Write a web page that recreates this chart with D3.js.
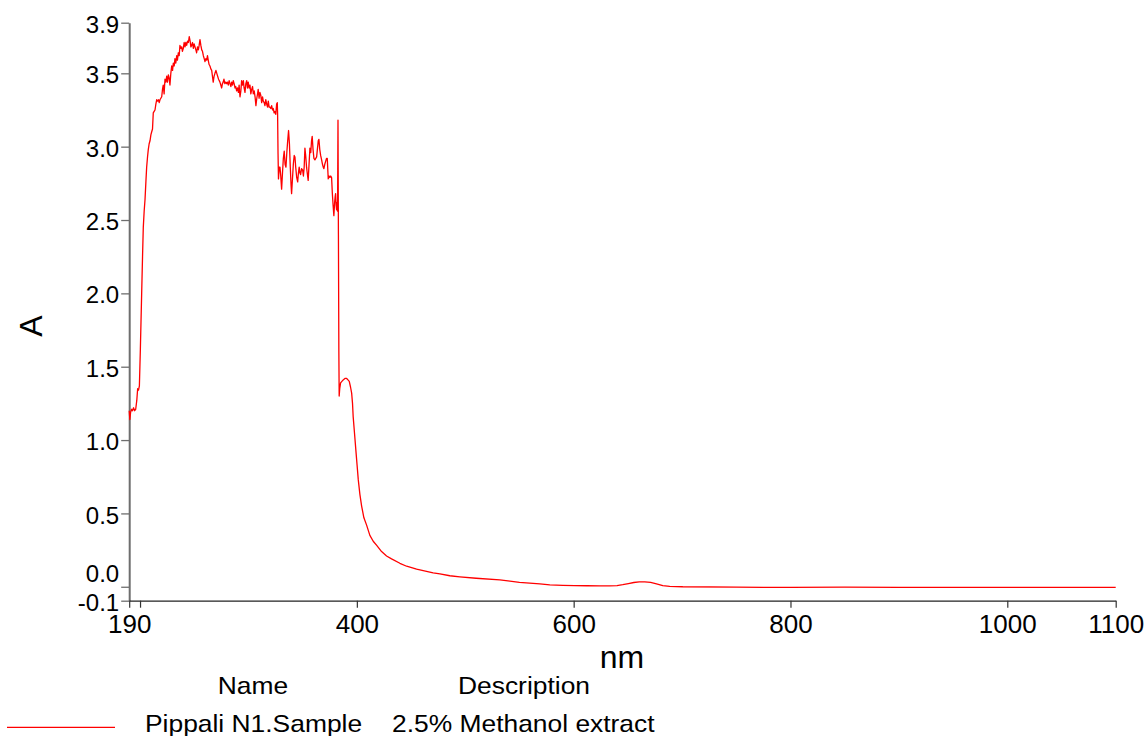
<!DOCTYPE html>
<html>
<head>
<meta charset="utf-8">
<script src="https://cdn.jsdelivr.net/npm/d3@7"></script>
<style>
  html, body { margin: 0; padding: 0; background: #fff; }
  svg { display: block; font-family: "Liberation Sans", Arial, sans-serif; }
</style>
</head>
<body>
<svg id="chart" width="1148" height="736"></svg>
<script>
// ---------------- DATA ----------------
const wavelengths = [
  190.0,190.6,191.3,192.2,193.0,194.0,195.0,196.0,197.0,197.8,198.6,199.4,200.3,201.5,202.3,203.0,203.8,204.6,205.4,206.1,
  206.9,207.6,208.4,209.2,210.0,210.7,211.5,212.2,213.0,213.8,214.6,215.4,216.2,217.0,217.7,218.4,219.2,220.0,220.7,221.4,
  222.2,223.0,223.8,224.6,225.3,226.1,226.8,227.6,228.4,229.2,230.0,230.7,231.5,232.2,233.0,233.8,234.5,235.3,236.1,236.8,
  237.6,238.4,239.1,239.9,240.7,241.5,242.2,243.0,243.8,244.6,245.4,246.2,246.9,247.6,248.4,249.2,249.9,250.7,251.5,252.2,
  253.0,253.8,254.5,255.3,256.1,256.9,257.6,258.4,259.2,259.9,260.7,261.5,262.2,262.9,263.7,264.5,265.3,266.1,266.8,267.5,
  268.3,269.1,270.0,270.8,271.6,272.4,273.1,273.7,274.5,275.3,276.0,276.7,277.4,278.2,279.0,279.8,280.6,281.4,282.2,283.0,
  283.8,284.5,285.3,286.0,286.8,287.6,288.3,289.1,289.9,290.7,291.4,292.2,293.0,293.7,294.5,295.3,296.0,296.8,297.6,298.4,
  299.1,299.8,300.6,301.4,302.2,303.0,303.8,304.5,305.3,306.1,306.9,307.7,308.4,309.0,309.8,310.6,311.4,312.2,313.0,313.7,
  314.5,315.2,316.0,316.8,317.6,318.3,319.1,319.8,320.6,321.4,322.2,322.9,323.7,324.4,325.2,326.0,326.6,326.9,327.3,327.7,
  328.4,329.1,329.8,330.6,331.4,332.2,333.0,333.8,334.6,335.4,336.2,337.0,337.8,338.6,339.3,339.8,340.6,341.4,342.2,342.9,
  343.6,344.5,345.4,346.1,346.8,347.5,348.1,349.0,350.0,350.7,351.4,352.1,352.8,353.6,354.4,355.1,355.9,356.7,357.5,358.2,
  358.8,359.6,360.4,361.3,362.1,362.9,363.7,364.4,365.0,365.8,366.6,367.5,368.3,369.0,369.6,370.4,371.2,372.0,372.7,373.6,
  374.4,375.2,375.9,376.7,377.4,378.1,378.8,379.5,380.0,380.4,380.9,381.3,381.8,382.2,382.6,383.0,383.4,383.7,384.2,385.0,
  386.2,387.4,389.0,390.6,391.8,393.0,394.2,395.2,396.0,396.6,397.8,399.1,400.2,401.3,402.8,404.4,406.5,409.0,412.0,415.1,
  418.5,422.8,427.4,432.0,439.7,445.9,455.1,461.2,470.4,476.6,485.8,495.0,510.0,531.9,550.0,568.8,578.0,590.0,601.0,612.0,
  624.0,633.0,640.0,645.3,650.5,655.5,660.5,665.6,671.0,676.4,682.2,688.6,700.6,750.0,780.0,800.0,850.0,900.0,950.0,1000.0,
  1050.0,1100.0
];
const absorbance = [
  1.20,1.14,1.19,1.21,1.20,1.22,1.20,1.21,1.27,1.35,1.34,1.37,1.62,2.00,2.25,2.45,2.56,2.64,2.76,2.86,
  2.93,2.98,3.02,3.04,3.08,3.10,3.12,3.23,3.24,3.25,3.29,3.32,3.31,3.32,3.30,3.32,3.33,3.34,3.39,3.42,
  3.36,3.46,3.44,3.48,3.44,3.49,3.47,3.42,3.50,3.55,3.52,3.57,3.55,3.60,3.57,3.62,3.59,3.64,3.62,3.69,
  3.67,3.68,3.65,3.67,3.71,3.68,3.71,3.69,3.72,3.71,3.75,3.72,3.68,3.69,3.71,3.67,3.70,3.68,3.66,3.64,
  3.68,3.66,3.69,3.73,3.69,3.66,3.65,3.62,3.60,3.58,3.60,3.59,3.62,3.59,3.56,3.55,3.53,3.52,3.48,3.44,
  3.48,3.50,3.52,3.50,3.48,3.46,3.45,3.44,3.42,3.40,3.43,3.44,3.46,3.43,3.44,3.43,3.44,3.42,3.45,3.43,
  3.41,3.44,3.42,3.45,3.43,3.40,3.41,3.38,3.40,3.37,3.42,3.34,3.38,3.45,3.42,3.45,3.40,3.37,3.43,3.45,
  3.40,3.44,3.40,3.42,3.36,3.39,3.41,3.36,3.38,3.34,3.28,3.33,3.36,3.39,3.33,3.37,3.35,3.30,3.34,3.31,
  3.30,3.28,3.32,3.29,3.27,3.31,3.27,3.27,3.26,3.28,3.25,3.26,3.23,3.24,3.22,3.29,3.30,3.22,2.95,2.78,
  2.86,2.86,2.80,2.71,2.82,2.92,2.97,2.88,2.86,2.96,3.04,3.11,3.02,2.86,2.74,2.68,2.78,2.88,2.94,2.93,
  2.86,2.79,2.76,2.82,2.86,2.82,2.81,2.85,2.84,2.80,2.86,2.99,2.94,2.86,2.81,2.77,2.88,2.99,2.96,3.04,
  3.07,2.98,2.92,2.91,2.92,2.93,2.99,3.04,3.05,2.98,2.94,2.91,2.88,2.86,2.85,2.88,2.90,2.92,2.92,2.78,
  2.80,2.79,2.80,2.79,2.68,2.60,2.53,2.62,2.66,2.68,2.60,2.57,2.62,2.56,3.18,2.40,1.60,1.30,1.35,1.39,
  1.40,1.41,1.42,1.42,1.41,1.40,1.36,1.32,1.25,1.16,1.05,0.93,0.83,0.73,0.63,0.55,0.47,0.42,0.35,0.31,
  0.28,0.24,0.21,0.19,0.16,0.14,0.12,0.11,0.095,0.088,0.075,0.068,0.058,0.047,0.030,0.019,0.013,0.010,0.008,0.007,
  0.006,0.006,0.008,0.014,0.022,0.029,0.033,0.034,0.030,0.020,0.008,0.003,0.000,-0.003,-0.004,-0.004,-0.003,-0.004,-0.004,-0.004,
  -0.004,-0.004
];
const xTickValues = [190, 200, 400, 600, 800, 1000, 1100];
const xTickLabels = ["190", "", "400", "600", "800", "1000", "1100"];
const yTickValues = [-0.095, 0, 0.5, 1.0, 1.5, 2.0, 2.5, 3.0, 3.5, 3.845];
const yTickLabels = ["-0.1", "0.0", "0.5", "1.0", "1.5", "2.0", "2.5", "3.0", "3.5", "3.9"];
const xDomain = [190, 1100];
const yDomain = [-0.095, 3.845];
const xTitle = "nm";
const yTitle = "A";
const legendHeaders = ["Name", "Description"];
const seriesName = "Pippali N1.Sample";
const seriesDescription = "2.5% Methanol extract";

// ---------------- DRAW ----------------
const svg = d3.select("#chart");
const plotLeft = 129.2, plotRight = 1115.7, plotTop = 22.7, plotBottom = 600.7;
const x = d3.scaleLinear().domain(xDomain).range([plotLeft, plotRight]);
const y = d3.scaleLinear().domain(yDomain).range([plotBottom, plotTop]);

// Y axis
const yAxis = d3.axisLeft(y)
  .tickValues(yTickValues)
  .tickFormat((d, i) => yTickLabels[i])
  .tickSize(8).tickSizeOuter(0).tickPadding(2);
const yg = svg.append("g").attr("transform", `translate(${plotLeft},0)`).call(yAxis);
yg.select(".domain").attr("stroke", "#6e6e6e").attr("stroke-width", 2);
yg.selectAll(".tick line").attr("stroke", "#6e6e6e").attr("stroke-width", 1.3);
yg.selectAll(".tick text")
  .attr("fill", "#000").attr("font-size", 24)
  .attr("font-family", "'Liberation Sans', Arial, sans-serif")
  .attr("dy", "0.4em");
// avoid overlapping labels (shift upward like the instrument software)
{
  const ticks = yg.selectAll(".tick").nodes()
    .map(n => ({ node: n, pos: y(d3.select(n).datum()) }))
    .sort((a, b) => b.pos - a.pos);
  const minGap = 28.5;
  let prev = null;
  ticks.forEach(t => {
    let p = t.pos;
    if (prev !== null && prev - p < minGap) {
      const shift = minGap - (prev - p);
      d3.select(t.node).select("text").attr("y", -shift);
      p = prev - minGap;
    }
    prev = p;
  });
}

// X axis
const xAxis = d3.axisBottom(x)
  .tickValues(xTickValues)
  .tickFormat((d, i) => xTickLabels[i])
  .tickSize(7).tickSizeOuter(0).tickPadding(7);
const xg = svg.append("g").attr("transform", `translate(0,${plotBottom})`).call(xAxis);
xg.select(".domain").attr("stroke", "#222").attr("stroke-width", 1.2);
xg.selectAll(".tick line").attr("stroke", "#333").attr("stroke-width", 1.2);
xg.selectAll(".tick text")
  .attr("fill", "#000").attr("font-size", 26)
  .attr("font-family", "'Liberation Sans', Arial, sans-serif");

// Spectrum line
const pts = wavelengths.map((w, i) => [w, absorbance[i]]);
const line = d3.line().x(d => x(d[0])).y(d => y(d[1]));
svg.append("path")
  .datum(pts)
  .attr("d", line)
  .attr("fill", "none")
  .attr("stroke", "#ff0000")
  .attr("stroke-width", 1.3)
  .attr("stroke-linejoin", "round");

// Axis titles
svg.append("text")
  .attr("x", 622).attr("y", 668)
  .attr("text-anchor", "middle")
  .attr("font-size", 32)
  .text(xTitle);
svg.append("text")
  .attr("transform", "translate(42,326) rotate(-90)")
  .attr("text-anchor", "middle")
  .attr("font-size", 32)
  .text(yTitle);

// Legend (text slightly wide, as in the instrument printout)
const legendFont = 24, legendStretch = 1.1;
function legendText(tx, ty, anchor, str) {
  svg.append("g")
    .attr("transform", `translate(${tx},${ty}) scale(${legendStretch},1)`)
    .append("text")
    .attr("text-anchor", anchor)
    .attr("font-size", legendFont)
    .text(str);
}
legendText(253, 694, "middle", legendHeaders[0]);
legendText(524, 694, "middle", legendHeaders[1]);
svg.append("line").attr("x1", 7).attr("x2", 115).attr("y1", 727.3).attr("y2", 727.3)
  .attr("stroke", "#ff0000").attr("stroke-width", 1.2);
legendText(145, 731.5, "start", seriesName);
legendText(392, 731.5, "start", seriesDescription);
</script>
</body>
</html>
